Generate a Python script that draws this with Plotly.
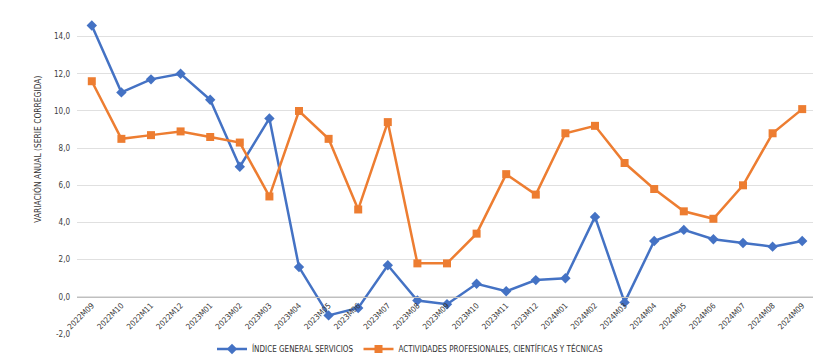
import plotly.graph_objects as go

categories = ["2022M09", "2022M10", "2022M11", "2022M12", "2023M01", "2023M02", "2023M03",
              "2023M04", "2023M05", "2023M06", "2023M07", "2023M08", "2023M09", "2023M10",
              "2023M11", "2023M12", "2024M01", "2024M02", "2024M03", "2024M04", "2024M05",
              "2024M06", "2024M07", "2024M08", "2024M09"]

indice_general = [14.6, 11.0, 11.7, 12.0, 10.6, 7.0, 9.6, 1.6, -1.0, -0.6, 1.7, -0.2, -0.4,
                  0.7, 0.3, 0.9, 1.0, 4.3, -0.3, 3.0, 3.6, 3.1, 2.9, 2.7, 3.0]

actividades = [11.6, 8.5, 8.7, 8.9, 8.6, 8.3, 5.4, 10.0, 8.5, 4.7, 9.4, 1.8, 1.8, 3.4, 6.6,
               5.5, 8.8, 9.2, 7.2, 5.8, 4.6, 4.2, 6.0, 8.8, 10.1]

y_tickvals = [-2, 0, 2, 4, 6, 8, 10, 12, 14, 16]
y_ticktext = ["-2,0", "0,0", "2,0", "4,0", "6,0", "8,0", "10,0", "12,0", "14,0", "16,0"]

series_names = ["ÍNDICE GENERAL SERVICIOS", "ACTIVIDADES PROFESIONALES, CIENTÍFICAS Y TÉCNICAS"]
y_title = "VARIACIÓN ANUAL (SERIE CORREGIDA)"

FONT = "Liberation Sans Narrow, DejaVu Sans Condensed, Arial Narrow, Liberation Sans, Arial, sans-serif"

fig = go.Figure()
fig.add_trace(go.Scatter(
    x=categories, y=indice_general, name=series_names[0], mode="lines+markers",
    line=dict(color="#4472C4", width=2.5),
    marker=dict(symbol="diamond", size=8, color="#4472C4"),
))
fig.add_trace(go.Scatter(
    x=categories, y=actividades, name=series_names[1], mode="lines+markers",
    line=dict(color="#ED7D31", width=2.5),
    marker=dict(symbol="square", size=8, color="#ED7D31"),
))

ymin, ymax = -2, 15.54
fig.update_layout(
    width=813, height=353,
    margin=dict(l=69, r=4, t=0, b=27, autoexpand=False),
    paper_bgcolor="white", plot_bgcolor="white",
    font=dict(family=FONT, size=8, color="#404040"),
    showlegend=True,
    legend=dict(orientation="h", x=0.45, xanchor="center", y=-0.046, yanchor="middle",
                font=dict(family=FONT, size=8, color="#333333"),
                itemwidth=30, tracegroupgap=0, bgcolor="rgba(0,0,0,0)"),
    xaxis=dict(
        type="category", anchor="free", position=(0 - ymin) / (ymax - ymin),
        showline=True, linecolor="#bfbfbf", linewidth=1, automargin=False,
        showgrid=False, zeroline=False, ticks="",
        tickangle=-45, tickfont=dict(family=FONT, size=8, color="#3a3a3a"),
        range=[-0.5, len(categories) - 0.5],
    ),
    yaxis=dict(
        range=[ymin, ymax], tickvals=y_tickvals, ticktext=y_ticktext, automargin=False,
        showgrid=True, gridcolor="#e0e0e0", gridwidth=1, zeroline=False,
        showline=False, ticks="", ticklabelstandoff=6,
        tickfont=dict(family=FONT, size=8, color="#404040"),
    ),
    annotations=[dict(
        text=y_title, textangle=-90, xref="paper", yref="paper",
        x=0, xshift=-47, y=0.567, showarrow=False,
        font=dict(family=FONT, size=8.4, color="#333333"),
    )],
)

fig.write_html("out.html")
